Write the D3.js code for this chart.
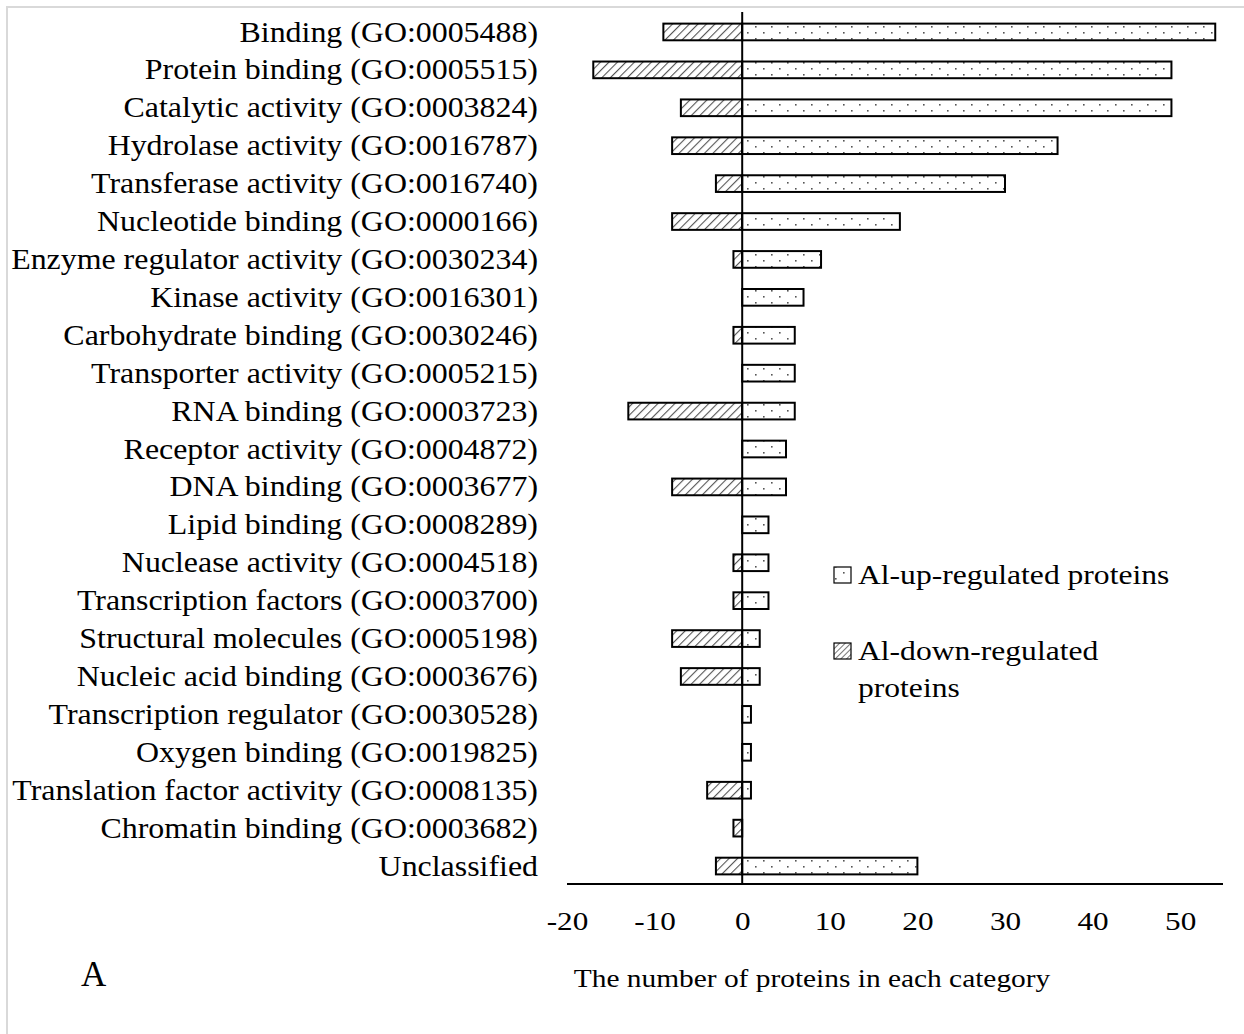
<!DOCTYPE html>
<html>
<head>
<meta charset="utf-8">
<script src="https://cdn.jsdelivr.net/npm/d3@7"></script>
<style>
  body { margin: 0; background: #fff; }
  svg { display: block; font-family: "Liberation Serif", "Times New Roman", serif; }
</style>
</head>
<body>
<svg id="chart" width="1244" height="1034"></svg>
<script>
// GO molecular function categories, top to bottom
const categories = [
  "Binding (GO:0005488)",
  "Protein binding (GO:0005515)",
  "Catalytic activity (GO:0003824)",
  "Hydrolase activity (GO:0016787)",
  "Transferase activity (GO:0016740)",
  "Nucleotide binding (GO:0000166)",
  "Enzyme regulator activity (GO:0030234)",
  "Kinase activity (GO:0016301)",
  "Carbohydrate binding (GO:0030246)",
  "Transporter activity (GO:0005215)",
  "RNA binding (GO:0003723)",
  "Receptor activity (GO:0004872)",
  "DNA binding (GO:0003677)",
  "Lipid binding (GO:0008289)",
  "Nuclease activity (GO:0004518)",
  "Transcription factors (GO:0003700)",
  "Structural molecules (GO:0005198)",
  "Nucleic acid binding (GO:0003676)",
  "Transcription regulator (GO:0030528)",
  "Oxygen binding (GO:0019825)",
  "Translation factor activity (GO:0008135)",
  "Chromatin binding (GO:0003682)",
  "Unclassified"
];
const upValues = [54, 49, 49, 36, 30, 18, 9, 7, 6, 6, 6, 5, 5, 3, 3, 3, 2, 2, 1, 1, 1, 0, 20];
const downValues = [-9, -17, -7, -8, -3, -8, -1, 0, -1, 0, -13, 0, -8, 0, -1, -1, -8, -7, 0, 0, -4, -1, -3];
const xTicks = [-20, -10, 0, 10, 20, 30, 40, 50];
const legendLabels = [["Al-up-regulated proteins"], ["Al-down-regulated", "proteins"]];

// the original figure's text is somewhat wider than plain Times
const stretch = (x, y, s) => `translate(${x},${y}) scale(${s},1)`;

const svg = d3.select("#chart");

// light frame of the original figure
svg.append("rect")
    .attr("x", 7).attr("y", 7).attr("width", 1300).attr("height", 1100)
    .attr("fill", "none").attr("stroke", "#d9d9d9").attr("stroke-width", 2);

// fill patterns
const defs = svg.append("defs");
const dots = defs.append("pattern")
    .attr("id", "dots").attr("patternUnits", "userSpaceOnUse")
    .attr("width", 16).attr("height", 12);
dots.append("rect").attr("width", 16).attr("height", 12).attr("fill", "#fff");
dots.append("rect").attr("x", 3).attr("y", 2).attr("width", 1.6).attr("height", 1.6).attr("fill", "#555");
dots.append("rect").attr("x", 11).attr("y", 8).attr("width", 1.6).attr("height", 1.6).attr("fill", "#555");

const hatch = defs.append("pattern")
    .attr("id", "hatch").attr("patternUnits", "userSpaceOnUse")
    .attr("width", 6).attr("height", 6)
    .attr("patternTransform", "rotate(45)");
hatch.append("rect").attr("width", 6).attr("height", 6).attr("fill", "#fff");
hatch.append("line").attr("x1", 0).attr("y1", 0).attr("x2", 0).attr("y2", 6)
    .attr("stroke", "#555").attr("stroke-width", 2.2);

const hatchSmall = defs.append("pattern")
    .attr("id", "hatchSmall").attr("patternUnits", "userSpaceOnUse")
    .attr("width", 4).attr("height", 4)
    .attr("patternTransform", "rotate(45)");
hatchSmall.append("rect").attr("width", 4).attr("height", 4).attr("fill", "#fff");
hatchSmall.append("line").attr("x1", 0).attr("y1", 0).attr("x2", 0).attr("y2", 4)
    .attr("stroke", "#555").attr("stroke-width", 1.6);

const x = d3.scaleLinear().domain([-20, 55]).range([567, 1224]);
const y = d3.scaleBand().domain(categories).range([13, 885]).paddingInner(0.56).paddingOuter(0.28);

// category labels
svg.append("g").selectAll("text")
    .data(categories)
    .join("text")
    .attr("transform", d => stretch(538, y(d) + y.bandwidth() / 2, 1.1))
    .attr("dy", "0.33em")
    .attr("text-anchor", "end")
    .attr("font-size", 29)
    .text(d => d);

// bars
const rows = categories.map((c, i) => ({ c, up: upValues[i], down: downValues[i] }));
const bars = svg.append("g").attr("stroke", "#000").attr("stroke-width", 2);
bars.selectAll("rect.down")
    .data(rows.filter(d => d.down !== 0))
    .join("rect")
    .attr("class", "down")
    .attr("x", d => x(d.down))
    .attr("y", d => y(d.c))
    .attr("width", d => x(0) - x(d.down))
    .attr("height", y.bandwidth())
    .attr("fill", "url(#hatch)");
bars.selectAll("rect.up")
    .data(rows.filter(d => d.up !== 0))
    .join("rect")
    .attr("class", "up")
    .attr("x", x(0))
    .attr("y", d => y(d.c))
    .attr("width", d => x(d.up) - x(0))
    .attr("height", y.bandwidth())
    .attr("fill", "url(#dots)");

// zero line
svg.append("line")
    .attr("x1", x(0)).attr("x2", x(0)).attr("y1", 12).attr("y2", 884)
    .attr("stroke", "#000").attr("stroke-width", 2);

// x axis
const xAxis = svg.append("g")
    .attr("transform", "translate(0,884)")
    .call(d3.axisBottom(x).tickValues(xTicks).tickSize(0).tickPadding(28).tickFormat(d => String(d)));
xAxis.select(".domain").attr("stroke", "#000").attr("stroke-width", 2).attr("d", "M567,0H1223");
xAxis.selectAll("text")
    .attr("font-size", 26).attr("font-family", "Liberation Serif").attr("fill", "#000")
    .attr("transform", "scale(1.2,1)");

svg.append("text")
    .attr("transform", stretch(812, 987, 1.2))
    .attr("text-anchor", "middle")
    .attr("font-size", 24.5)
    .text("The number of proteins in each category");

svg.append("text")
    .attr("x", 81).attr("y", 986)
    .attr("font-size", 35)
    .text("A");

// legend
const legend = svg.append("g");
const legendY = [575, 651];
const legendFill = ["url(#dots)", "url(#hatchSmall)"];
legendLabels.forEach((lines, i) => {
  legend.append("rect")
      .attr("x", 834).attr("y", legendY[i] - 8).attr("width", 17).attr("height", 16)
      .attr("fill", legendFill[i]).attr("stroke", "#000").attr("stroke-width", 1.2);
  lines.forEach((t, j) => {
    legend.append("text")
        .attr("transform", stretch(858, legendY[i] + j * 37, 1.17))
        .attr("dy", "0.33em")
        .attr("font-size", 27)
        .text(t);
  });
});
</script>
</body>
</html>
